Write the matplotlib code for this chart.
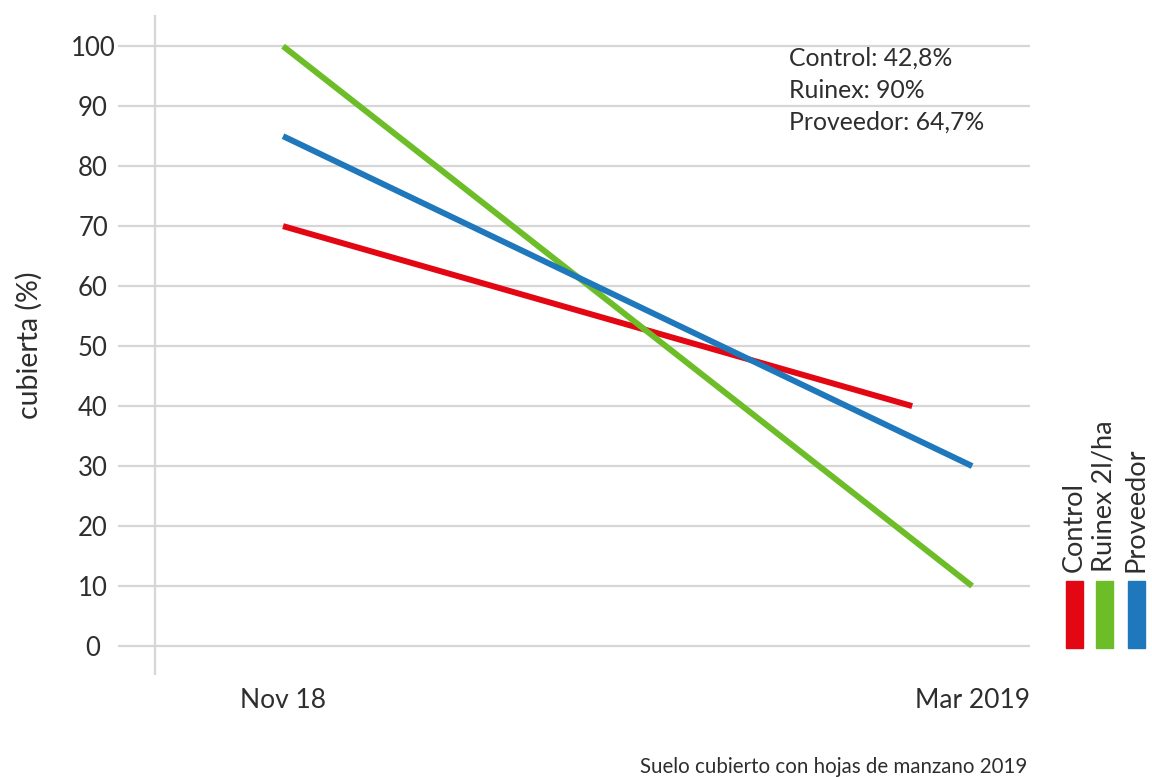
import matplotlib
matplotlib.use("Agg")
import matplotlib.pyplot as plt
from matplotlib.patches import Rectangle

plt.rcParams['font.family'] = ['Lato', 'DejaVu Sans']

# Data
x_labels = ["Nov 18", "Mar 2019"]
series_names = ["Control", "Ruinex 2l/ha", "Proveedor"]
control_x = [0, 0.913]
control_y = [70, 40]
ruinex_x = [0, 1]
ruinex_y = [100, 10]
proveedor_x = [0, 1]
proveedor_y = [85, 30]
y_ticks = [0, 10, 20, 30, 40, 50, 60, 70, 80, 90, 100]
notes = ["Control: 42,8%", "Ruinex: 90%", "Proveedor: 64,7%"]

RED = "#E30613"
GREEN = "#6CBD28"
BLUE = "#1F77BC"
TXT = "#2E2E2E"
GRID = "#D6D6D6"

fig = plt.figure(figsize=(11.52, 7.77), dpi=100)
ax = fig.add_axes([118/1152, 1-675/777, (1030-118)/1152, (675-15)/777])

ax.set_xlim(-0.2395, 1.084)
ax.set_ylim(-4.83, 105.2)

for s in ax.spines.values():
    s.set_visible(False)

for v in y_ticks:
    ax.axhline(v, color=GRID, lw=1.6, zorder=1)
ax.axvline(-0.1858, color=GRID, lw=1.6, zorder=1)

lw = 4.3
ax.plot(control_x, control_y, color=RED, lw=lw, solid_capstyle='butt', zorder=3)
ax.plot(proveedor_x, proveedor_y, color=BLUE, lw=lw, solid_capstyle='butt', zorder=4)
ax.plot(ruinex_x, ruinex_y, color=GREEN, lw=lw, solid_capstyle='butt', zorder=3)

ax.set_yticks(y_ticks)
ax.set_yticklabels([str(v) for v in y_ticks], fontsize=18.5, color=TXT)
for lab in ax.get_yticklabels():
    lab.set_horizontalalignment('center')
ax.tick_params(axis='y', length=0, pad=18)

ax.set_xticks([0, 1])
ax.set_xticklabels(x_labels, fontsize=19, color=TXT)
ax.tick_params(axis='x', length=0, pad=9)

ax.set_ylabel("cubierta (%)", fontsize=20.5, color=TXT, labelpad=20)

# notes
for i, t in enumerate(notes):
    fig.text(789/1152, 1-(58+i*32)/777, t, fontsize=17.8, color=TXT,
             ha='left', va='center')

# custom legend
cols = [RED, GREEN, BLUE]
xs = [1066, 1096, 1128]
for name, c, x0 in zip(series_names, cols, xs):
    fig.patches.append(Rectangle((x0/1152, 1-648/777), 17/1152, 67/777,
                                 transform=fig.transFigure, color=c, figure=fig))
    fig.text((x0+8)/1152, 1-572/777, name, rotation=90, fontsize=19.5,
             color=TXT, ha='center', va='bottom')

fig.text(1027/1152, 1-767/777, "Suelo cubierto con hojas de manzano 2019",
         fontsize=14.8, color=TXT, ha='right', va='center')

fig.savefig("out.png", dpi=100)
